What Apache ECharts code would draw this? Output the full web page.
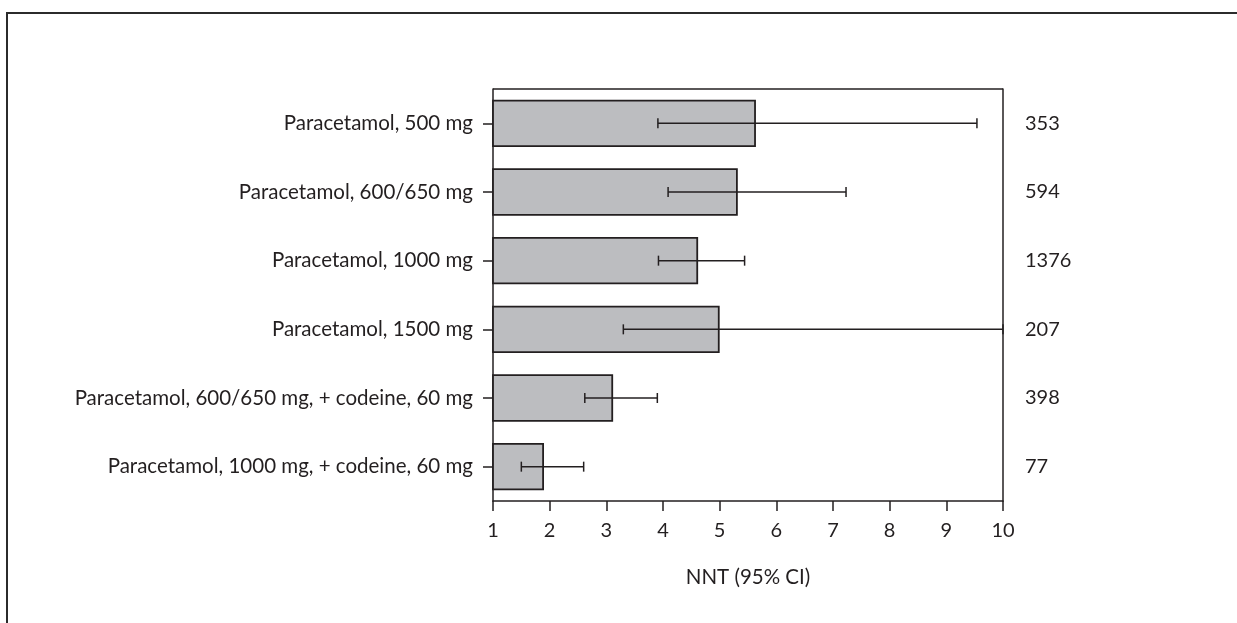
<!DOCTYPE html>
<html>
<head>
<meta charset="utf-8">
<script src="https://cdn.jsdelivr.net/npm/echarts@6/dist/echarts.min.js"></script>
<style>
  html, body { margin: 0; padding: 0; background: #fff; }
  #chart { width: 1237px; height: 623px; }
</style>
</head>
<body>
<div id="chart"></div>
<script>
// Treatments, top to bottom
var categories = [
  'Paracetamol, 500 mg',
  'Paracetamol, 600/650 mg',
  'Paracetamol, 1000 mg',
  'Paracetamol, 1500 mg',
  'Paracetamol, 600/650 mg, + codeine, 60 mg',
  'Paracetamol, 1000 mg, + codeine, 60 mg'
];
// Point estimate of NNT
var nnt = [5.64, 5.32, 4.62, 5.0, 3.12, 1.9];
// 95% confidence limits (upper limit of 1500 mg runs off the axis)
var ciLow = [3.91, 4.09, 3.92, 3.3, 2.62, 1.5];
var ciHigh = [9.54, 7.23, 5.44, 10, 3.9, 2.6];
// Number of patients in each comparison
var patients = ['353', '594', '1376', '207', '398', '77'];
// X-axis tick labels
var xTicks = ['1', '2', '3', '4', '5', '6', '7', '8', '9', '10'];

var ink = '#231f20';
var font = 'Lato';
var fs = 20;

var ciData = categories.map(function (c, i) { return [i, ciLow[i], ciHigh[i]]; });

var chart = echarts.init(document.getElementById('chart'), null, { renderer: 'canvas' });
chart.setOption({
  animation: false,
  backgroundColor: '#fff',
  textStyle: { fontFamily: font, color: ink },
  grid: { left: 493, right: 234, top: 89, bottom: 122, containLabel: false },
  xAxis: {
    type: 'value',
    min: 1,
    max: 10,
    interval: 1,
    name: 'NNT (95% CI)',
    nameLocation: 'middle',
    nameGap: 66,
    nameTextStyle: { fontFamily: font, fontSize: 20.5, color: ink },
    axisLine: { show: true, lineStyle: { color: ink, width: 1.5 } },
    axisTick: { show: true, length: 10, lineStyle: { color: ink, width: 1.5 } },
    axisLabel: {
      margin: 20, fontFamily: font, fontSize: fs, color: ink,
      formatter: function (v) { return xTicks[Math.round(v) - 1]; }
    },
    splitLine: { show: false }
  },
  yAxis: [{
    type: 'category',
    data: categories,
    inverse: true,
    axisLine: { show: true, lineStyle: { color: ink, width: 1.5 } },
    axisTick: { show: true, length: 10, alignWithLabel: true, lineStyle: { color: ink, width: 1.5 } },
    axisLabel: { margin: 20, fontFamily: font, fontSize: 20.5, color: ink }
  }, {
    type: 'category',
    data: patients,
    inverse: true,
    position: 'right',
    axisLine: { show: true, lineStyle: { color: ink, width: 1.5 } },
    axisTick: { show: false },
    axisLabel: { margin: 22, align: 'left', fontFamily: font, fontSize: fs, color: ink }
  }],
  graphic: [{
    type: 'polyline',
    shape: { points: [[7, 640], [7, 13], [1250, 13]] },
    style: { stroke: '#2b2b2b', lineWidth: 2, fill: null },
    silent: true
  }, {
    type: 'line',
    shape: { x1: 493, y1: 89, x2: 1003, y2: 89 },
    style: { stroke: ink, lineWidth: 1.5 },
    silent: true
  }],
  series: [{
    type: 'bar',
    data: nnt,
    yAxisIndex: 0,
    barCategoryGap: '31%',
    clip: true,
    itemStyle: { color: '#bcbdc0', borderColor: ink, borderWidth: 1.8 }
  }, {
    type: 'custom',
    yAxisIndex: 0,
    data: ciData,
    clip: false,
    z: 5,
    renderItem: function (params, api) {
      var i = api.value(0);
      var lo = api.coord([api.value(1), i]);
      var hi = api.coord([api.value(2), i]);
      var cap = 5;
      var s = { stroke: ink, lineWidth: 1.5 };
      return {
        type: 'group',
        children: [
          { type: 'line', shape: { x1: lo[0], y1: lo[1], x2: hi[0], y2: hi[1] }, style: s },
          { type: 'line', shape: { x1: lo[0], y1: lo[1] - cap, x2: lo[0], y2: lo[1] + cap }, style: s },
          { type: 'line', shape: { x1: hi[0], y1: hi[1] - cap, x2: hi[0], y2: hi[1] + cap }, style: s }
        ]
      };
    }
  }]
});
</script>
</body>
</html>
